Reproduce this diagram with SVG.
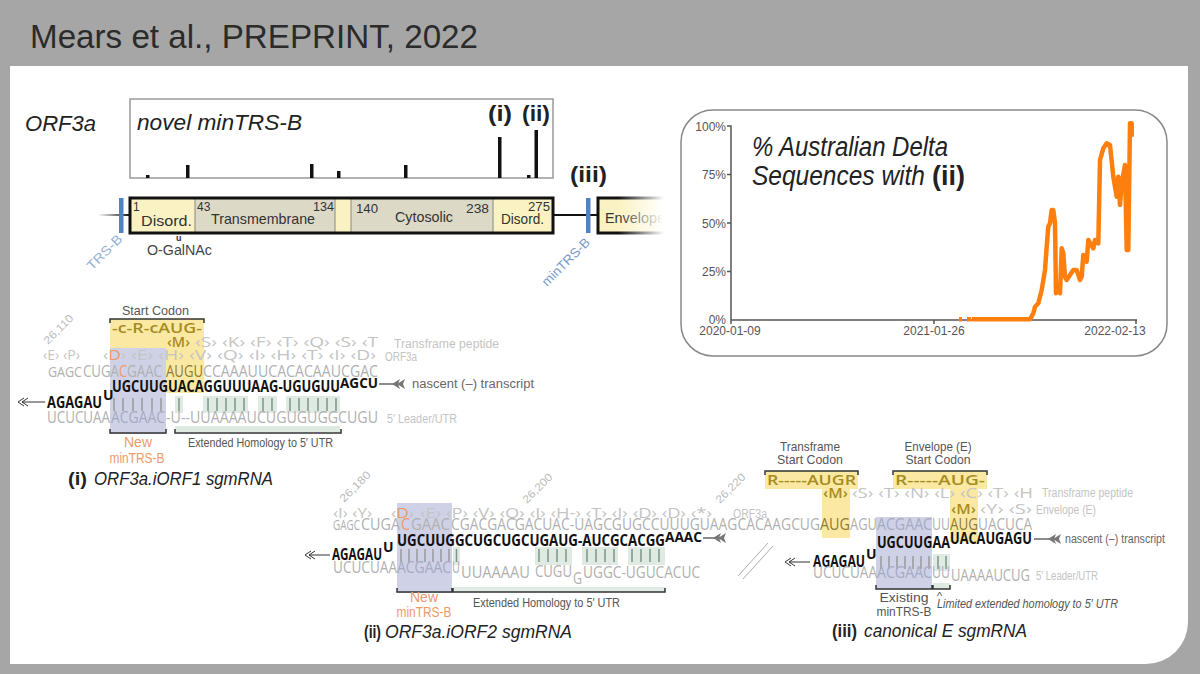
<svg xmlns="http://www.w3.org/2000/svg" width="1200" height="674" viewBox="0 0 1200 674">
<defs>
<style>
.s{font-family:"Open Sans","Noto Sans",sans-serif}
.h{font-family:"Liberation Sans",Arial,sans-serif}
.g{fill:#b0b0b0;font-size:16px}
.sm{font-size:14px}
.a{fill:#c4c4c4;font-size:14.5px}
.b{fill:#111;font-size:16px;font-weight:700}
.bs{font-size:14px}
.lb{fill:#c4c4c4;font-size:12px}
.dk{fill:#555;font-size:13px}
.nt{fill:#666;font-size:12.5px}
.or{fill:#ee9968}
.gd{fill:#a68c22;font-weight:600}
.au{fill:#8e7b35}
.bg{fill:#a6a9c2}
.t{fill:#222;font-size:19px}
.num{fill:#bbb;font-size:11px}
.brk{fill:none;stroke:#333;stroke-width:1.5}
.pg{stroke:#9a9a9a;stroke-width:1.5}
.pn{stroke:#7f978a;stroke-width:1.5}
.yl{fill:#fbe9a3}
.bl{fill:#cfd2e6}
.gr{fill:#dfeae2}
.arl{stroke:#333;stroke-width:1}
.aro{fill:none;stroke:#333;stroke-width:1}
.arr{stroke:#666;stroke-width:1.5}
.tick{fill:#555;font-size:12px}
.dom{fill:#333;font-size:15px}
.domn{fill:#333;font-size:12px}
</style>
<linearGradient id="fadeL" gradientUnits="userSpaceOnUse" x1="98" y1="0" x2="128" y2="0">
<stop offset="0" stop-color="#fff"/><stop offset="1" stop-color="#222"/>
</linearGradient>
<linearGradient id="fadeR" gradientUnits="userSpaceOnUse" x1="618" y1="0" x2="664" y2="0">
<stop offset="0" stop-color="#fff" stop-opacity="0"/><stop offset="1" stop-color="#fff" stop-opacity="1"/>
</linearGradient>
<path id="chF" d="M0,0 L8,-5 L6,0 L8,5 Z M5,0 L13,-5 L11,0 L13,5 Z"/>
<path id="chO" d="M6,-4 L0,0 L6,4 M10,-4 L4,0 L10,4"/>
</defs>

<rect width="1200" height="674" fill="#a6a6a6"/>
<path d="M10,66 H1188 V622 A42,42 0 0 1 1146,664 H10 Z" fill="#fff"/>
<text class="h" x="30" y="48" font-size="34" fill="#2b2b2b" textLength="448" lengthAdjust="spacingAndGlyphs">Mears et al., PREPRINT, 2022</text>

<!-- ORF3a histogram -->
<g id="histogram">
<text class="h" x="25" y="131" font-size="22" font-style="italic" fill="#222" textLength="71" lengthAdjust="spacingAndGlyphs">ORF3a</text>
<rect x="130" y="99" width="423" height="79" fill="#fff" stroke="#999" stroke-width="1.5"/>
<text class="h" x="137" y="130" font-size="22" font-style="italic" fill="#222" textLength="165" lengthAdjust="spacingAndGlyphs">novel minTRS-B</text>
<text class="h" x="488" y="121" font-size="22" font-weight="bold" fill="#222" textLength="24" lengthAdjust="spacingAndGlyphs">(i)</text>
<text class="h" x="522" y="121" font-size="22" font-weight="bold" fill="#222" textLength="28" lengthAdjust="spacingAndGlyphs">(ii)</text>
<g fill="#111">
<rect x="146" y="175" width="3.5" height="3"/>
<rect x="186" y="165" width="3.5" height="13"/>
<rect x="310" y="164" width="3.5" height="14"/>
<rect x="337" y="171" width="3.5" height="7"/>
<rect x="404" y="165" width="3.5" height="13"/>
<rect x="498" y="137" width="3.5" height="41"/>
<rect x="527" y="175" width="3.5" height="3"/>
<rect x="534.5" y="130" width="3.5" height="48"/>
</g>
</g>

<!-- ORF3a domain bar -->
<g id="orf3a-domains">
<line x1="98" y1="215" x2="130" y2="215" stroke="url(#fadeL)" stroke-width="2"/>
<line x1="553" y1="215" x2="598" y2="215" stroke="#111" stroke-width="2"/>
<rect x="130" y="198" width="65" height="35" fill="#fbf2c3"/>
<rect x="195" y="198" width="140" height="35" fill="#dcd9c6"/>
<rect x="335" y="198" width="16" height="35" fill="#fbf2c3"/>
<rect x="351" y="198" width="142" height="35" fill="#dcd9c6"/>
<rect x="493" y="198" width="60" height="35" fill="#fbf2c3"/>
<path d="M195,198V233M335,198V233M351,198V233M493,198V233" stroke="#888" stroke-width="1"/>
<rect x="130" y="198" width="423" height="35" fill="none" stroke="#111" stroke-width="3"/>
<rect x="119" y="198" width="4.5" height="35" fill="#4f83c4"/>
<rect x="586" y="198" width="4.5" height="35" fill="#4f83c4"/>
<rect x="598" y="198" width="82" height="35" fill="#fbf2c3" stroke="#111" stroke-width="3"/>
<text class="h dom" x="605" y="223" textLength="60" lengthAdjust="spacingAndGlyphs">Envelope</text>
<rect x="612" y="190" width="69" height="52" fill="url(#fadeR)"/>
<text class="h domn" x="133" y="211" font-size="11">1</text>
<text class="h dom" x="141" y="226" textLength="51" lengthAdjust="spacingAndGlyphs">Disord.</text>
<text class="h domn" x="197" y="211">43</text>
<text class="h dom" x="211" y="224" textLength="104" lengthAdjust="spacingAndGlyphs">Transmembrane</text>
<text class="h domn" x="313" y="211" textLength="21" lengthAdjust="spacingAndGlyphs">134</text>
<text class="h domn" x="356" y="213" textLength="22" lengthAdjust="spacingAndGlyphs">140</text>
<text class="h dom" x="395" y="222" textLength="58" lengthAdjust="spacingAndGlyphs">Cytosolic</text>
<text class="h domn" x="466" y="213" textLength="23" lengthAdjust="spacingAndGlyphs">238</text>
<text class="h dom" x="501" y="224" textLength="43" lengthAdjust="spacingAndGlyphs">Disord.</text>
<text class="h domn" x="528" y="211" textLength="22" lengthAdjust="spacingAndGlyphs">275</text>
<text class="h" x="570" y="182" font-size="22" font-weight="bold" fill="#222" textLength="37" lengthAdjust="spacingAndGlyphs">(iii)</text>
<text class="h" x="176" y="241" font-size="9" font-weight="bold" fill="#333">u</text>
<text class="h" x="147" y="255" font-size="14" fill="#444" textLength="65" lengthAdjust="spacingAndGlyphs">O-GalNAc</text>
<text class="h" font-size="13" fill="#93b1d6" transform="translate(92,271) rotate(-45)" textLength="44" lengthAdjust="spacingAndGlyphs">TRS-B</text>
<text class="h" font-size="13" fill="#7a9ac6" transform="translate(547,287) rotate(-45)" textLength="62" lengthAdjust="spacingAndGlyphs">minTRS-B</text>
</g>

<!-- Chart -->
<g id="chart">
<rect x="681" y="110" width="486" height="246" rx="32" fill="#fff" stroke="#888" stroke-width="1.5"/>
<path d="M727,126H731V320H1137M727,174.5H731M727,223H731M727,271.5H731M731,320V324M934,320V324M1136,320V324" fill="none" stroke="#555" stroke-width="1.5"/>
<g class="h tick" text-anchor="end">
<text x="726" y="130.5">100%</text>
<text x="726" y="179">75%</text>
<text x="726" y="227.5">50%</text>
<text x="726" y="276">25%</text>
<text x="726" y="324">0%</text>
</g>
<g class="h tick" text-anchor="middle">
<text x="730" y="335">2020-01-09</text>
<text x="934" y="335">2021-01-26</text>
<text x="1115" y="335">2022-02-13</text>
</g>
<path d="M959,319.3H962M967,319.3H971M971.7,319.3 L1030,319.3 L1033.3,313.3 L1035,306.7 L1038.3,303.3 L1041.7,290 L1045,270 L1046.7,246.7 L1048.3,226.7 L1050,223.3 L1051.7,210 L1053.3,210 L1055,223.3 L1056,293.3 L1058.3,286.7 L1060,293.3 L1061.7,248.3 L1063.3,253.3 L1065,276.7 L1066.7,280 L1070,275 L1073.3,270 L1076.7,270 L1080,280 L1081.7,276.7 L1083.3,255 L1086.7,261.7 L1088.3,240 L1093.3,248.3 L1095,240 L1098.3,243.3 L1100,160 L1103.3,148.3 L1106.7,143.3 L1110,145 L1113.3,176.7 L1116.7,196.7 L1118.3,176.7 L1120,205 L1121.7,183.3 L1125,165 L1126.7,250 L1128.3,250 L1130,123.3 L1131.7,123.3 L1131.7,136.7" fill="none" stroke="#ff7f0e" stroke-width="4.5" stroke-linejoin="round"/>
<text class="h" x="752" y="156" font-size="27" font-style="italic" fill="#222" textLength="196" lengthAdjust="spacingAndGlyphs">% Australian Delta</text>
<text class="h" x="752" y="185" font-size="27" font-style="italic" fill="#222" textLength="173" lengthAdjust="spacingAndGlyphs">Sequences with</text>
<text class="h" x="932" y="185" font-size="27" font-weight="bold" fill="#222" textLength="33" lengthAdjust="spacingAndGlyphs">(ii)</text>
</g>

<!-- (i) ORF3a.iORF1 -->
<g id="seq-i">
<rect class="yl" x="110" y="319" width="94" height="74"/>
<rect class="bl" x="110" y="348" width="56" height="86"/>
<g class="gr"><rect x="175" y="396" width="8" height="17"/><rect x="203" y="396" width="45" height="17"/><rect x="258" y="396" width="19" height="17"/><rect x="286" y="396" width="54" height="17"/><rect x="175" y="426" width="165" height="6"/></g>
<path class="brk" d="M110,323V319H204V323"/>
<path class="brk" d="M110,429V433H166V429M175,429V433H341V429"/>
<text class="h dk" x="122" y="315" textLength="67" lengthAdjust="spacingAndGlyphs">Start Codon</text>
<text class="num h" transform="translate(48,345) rotate(-45)" textLength="37" lengthAdjust="spacingAndGlyphs">26,110</text>
<text class="s gd" x="112" y="333" font-size="15" textLength="90" lengthAdjust="spacingAndGlyphs">-c-R-cAUG-</text>
<text class="s a gd" x="167" y="347" textLength="23" lengthAdjust="spacingAndGlyphs">‹M›</text>
<text class="s a" x="195" y="347" textLength="183" lengthAdjust="spacingAndGlyphs">‹S› ‹K› ‹F› ‹T› ‹Q› ‹S› ‹T</text>
<text class="h lb" x="394" y="348" textLength="105" lengthAdjust="spacingAndGlyphs">Transframe peptide</text>
<text class="s a" x="43" y="360" textLength="37" lengthAdjust="spacingAndGlyphs">‹E› ‹P›</text>
<text class="s a" x="103" y="360" textLength="23" lengthAdjust="spacingAndGlyphs">‹<tspan class="or">D</tspan>›</text>
<text class="s a" x="131" y="360" textLength="245" lengthAdjust="spacingAndGlyphs">‹E› ‹H› ‹V› ‹Q› ‹I› ‹H› ‹T› ‹I› ‹D›</text>
<text class="h lb" x="385" y="361" textLength="32" lengthAdjust="spacingAndGlyphs">ORF3a</text>
<text class="s g sm" x="48" y="377" textLength="34" lengthAdjust="spacingAndGlyphs">GAGC</text>
<text class="s g" x="83" y="377" textLength="36" lengthAdjust="spacingAndGlyphs">CUGA</text>
<text class="s g or" x="119" y="377" textLength="8" lengthAdjust="spacingAndGlyphs">C</text>
<text class="s g" x="127" y="377" textLength="35" lengthAdjust="spacingAndGlyphs">GAAC</text>
<text class="s g au" x="166" y="377" textLength="37" lengthAdjust="spacingAndGlyphs">AUGU</text>
<text class="s g" x="203" y="377" textLength="175" lengthAdjust="spacingAndGlyphs">CCAAAUUCACACAAUCGAC</text>
<text class="s b" x="112" y="392" textLength="228" lengthAdjust="spacingAndGlyphs">UGCUUGUACAGGUUUAAG-UGUGUU</text>
<text class="s b bs" x="340" y="388" textLength="38" lengthAdjust="spacingAndGlyphs">AGCU</text>
<line class="arr" x1="379" y1="384" x2="398" y2="384"/>
<use href="#chF" x="392" y="384" fill="#777"/>
<text class="h nt" x="412" y="388" textLength="122" lengthAdjust="spacingAndGlyphs">nascent (–) transcript</text>
<line class="arl" x1="22" y1="402" x2="45" y2="402"/>
<use href="#chO" x="18" y="402" class="aro"/>
<text class="s b" x="47" y="408" textLength="55" lengthAdjust="spacingAndGlyphs">AGAGAU</text>
<text class="s b bs" x="103" y="400">U</text>
<path class="pg" d="M114,398v13M123,398v13M133,398v13M142,398v13M152,398v13M161,398v13"/>
<path class="pn" d="M179,398v13M208,398v13M217,398v13M226,398v13M235,398v13M244,398v13M263,398v13M272,398v13M290,398v13M299,398v13M308,398v13M318,398v13M327,398v13M336,398v13"/>
<text class="s g" x="47" y="423" textLength="63" lengthAdjust="spacingAndGlyphs">UCUCUAA</text>
<text class="s g bg" x="111" y="423" textLength="54" lengthAdjust="spacingAndGlyphs">ACGAAC</text>
<text class="s g" x="166" y="423" textLength="212" lengthAdjust="spacingAndGlyphs">-U--UUAAAAUCUGUGUGGCUGU</text>
<text class="h lb" x="387" y="423" textLength="70" lengthAdjust="spacingAndGlyphs">5′ Leader/UTR</text>
<text class="h or" x="138" y="447" font-size="14" text-anchor="middle">New</text>
<text class="h or" x="137" y="463" font-size="14" text-anchor="middle" textLength="55" lengthAdjust="spacingAndGlyphs">minTRS-B</text>
<text class="h" x="188" y="447" font-size="12" fill="#555" textLength="145" lengthAdjust="spacingAndGlyphs">Extended Homology to 5′ UTR</text>
<text class="h t" x="68" y="485" font-weight="bold" textLength="19" lengthAdjust="spacingAndGlyphs">(i)</text>
<text class="h t" x="94" y="485" font-style="italic" textLength="179" lengthAdjust="spacingAndGlyphs">ORF3a.iORF1 sgmRNA</text>
</g>

<!-- (ii) ORF3a.iORF2 -->
<g id="seq-ii">
<rect class="bl" x="397" y="503" width="55" height="90"/>
<g class="gr"><rect x="453" y="547" width="7" height="18"/><rect x="535" y="547" width="37" height="18"/><rect x="582" y="547" width="36" height="18"/><rect x="628" y="547" width="37" height="18"/><rect x="453" y="587" width="212" height="5"/></g>
<path class="brk" d="M397,588V592H452V588M453,588V592H665V588"/>
<text class="num h" transform="translate(344,503) rotate(-45)" textLength="39" lengthAdjust="spacingAndGlyphs">26,180</text>
<text class="num h" transform="translate(527,504) rotate(-45)" textLength="37" lengthAdjust="spacingAndGlyphs">26,200</text>
<text class="num h" transform="translate(720,504) rotate(-45)" textLength="37" lengthAdjust="spacingAndGlyphs">26,220</text>
<text class="s a" x="333" y="518" textLength="39" lengthAdjust="spacingAndGlyphs">‹I› ‹Y›</text>
<text class="s a" x="391" y="518" textLength="23" lengthAdjust="spacingAndGlyphs">‹<tspan class="or">D</tspan>›</text>
<text class="s a" x="420" y="518" textLength="292" lengthAdjust="spacingAndGlyphs">‹E› ‹P› ‹V› ‹Q› ‹I› ‹H-› ‹T› ‹I› ‹D› ‹D› ‹*›</text>
<text class="h lb" x="733" y="518" textLength="34" lengthAdjust="spacingAndGlyphs">ORF3a</text>
<text class="s g sm" x="333" y="530" textLength="27" lengthAdjust="spacingAndGlyphs">GAGC</text>
<text class="s g" x="361" y="530" textLength="39" lengthAdjust="spacingAndGlyphs">CUGA</text>
<text class="s g or" x="401" y="530" textLength="9" lengthAdjust="spacingAndGlyphs">C</text>
<text class="s g" x="411" y="530" textLength="39" lengthAdjust="spacingAndGlyphs">GAAC</text>
<text class="s g" x="451" y="530" textLength="369" lengthAdjust="spacingAndGlyphs">CGACGACGACUAC-UAGCGUGCCUUUGUAAGCACAAGCUG</text>
<text class="s b" x="397" y="546" textLength="268" lengthAdjust="spacingAndGlyphs">UGCUUGGCUGCUGCUGAUG-AUCGCACGG</text>
<text class="s b bs" x="665" y="542" textLength="37" lengthAdjust="spacingAndGlyphs">AAAC</text>
<line class="arr" x1="703" y1="538" x2="722" y2="538"/>
<use href="#chF" x="713" y="538" fill="#777"/>
<line class="arl" x1="309" y1="555" x2="330" y2="555"/>
<use href="#chO" x="305" y="555" class="aro"/>
<text class="s b" x="332" y="560" textLength="50" lengthAdjust="spacingAndGlyphs">AGAGAU</text>
<text class="s b bs" x="383" y="552">U</text>
<path class="pg" d="M401,549v13M409,549v13M417,549v13M425,549v13M433,549v13M441,549v13M449,549v13"/>
<path class="pn" d="M456.5,549v13M539,549v13M548,549v13M557,549v13M566,549v13M587,549v13M596,549v13M605,549v13M614,549v13M632,549v13M641,549v13M650,549v13M659,549v13"/>
<text class="s g" x="333" y="573" textLength="64" lengthAdjust="spacingAndGlyphs">UCUCUAA</text>
<text class="s g bg" x="397" y="573" textLength="54" lengthAdjust="spacingAndGlyphs">ACGAAC</text>
<text class="s g" x="452" y="573" textLength="8" lengthAdjust="spacingAndGlyphs">U</text>
<text class="s g" x="461" y="578" textLength="69" lengthAdjust="spacingAndGlyphs">UUAAAAU</text>
<text class="s g" x="535" y="577" textLength="37" lengthAdjust="spacingAndGlyphs">CUGU</text>
<text class="s g" x="573" y="584" textLength="9" lengthAdjust="spacingAndGlyphs">G</text>
<text class="s g" x="583" y="578" textLength="117" lengthAdjust="spacingAndGlyphs">UGGC-UGUCACUC</text>
<text class="h or" x="424" y="602" font-size="14" text-anchor="middle">New</text>
<text class="h or" x="424" y="617" font-size="14" text-anchor="middle" textLength="55" lengthAdjust="spacingAndGlyphs">minTRS-B</text>
<text class="h" x="473" y="607" font-size="12" fill="#555" textLength="147" lengthAdjust="spacingAndGlyphs">Extended Homology to 5′ UTR</text>
<text class="h t" x="364" y="638" font-weight="bold" textLength="17" lengthAdjust="spacingAndGlyphs">(ii)</text>
<text class="h t" x="385" y="638" font-style="italic" textLength="187" lengthAdjust="spacingAndGlyphs">ORF3a.iORF2 sgmRNA</text>
<path d="M738,576L768,543M743,579L773,546" stroke="#aaa" stroke-width="1" fill="none"/>
</g>

<!-- (iii) canonical E -->
<g id="seq-iii">
<rect class="yl" x="765" y="471" width="93" height="18"/>
<rect class="yl" x="822" y="489" width="28" height="49"/>
<rect class="yl" x="893" y="471" width="94" height="18"/>
<rect class="yl" x="950" y="489" width="28" height="53"/>
<rect class="bl" x="876" y="517" width="56" height="72"/>
<g class="gr"><rect x="933" y="554" width="17" height="17"/><rect x="933" y="583" width="17" height="6"/></g>
<path class="brk" d="M765,475V471H858V475M893,475V471H987V475"/>
<path class="brk" d="M876,585V589H932V585M933,585V589H950V585"/>
<text class="h dk" x="810" y="451" text-anchor="middle" textLength="60" lengthAdjust="spacingAndGlyphs">Transframe</text>
<text class="h dk" x="810" y="464" text-anchor="middle" textLength="66" lengthAdjust="spacingAndGlyphs">Start Codon</text>
<text class="h dk" x="938" y="451" text-anchor="middle" textLength="67" lengthAdjust="spacingAndGlyphs">Envelope (E)</text>
<text class="h dk" x="938" y="464" text-anchor="middle" textLength="65" lengthAdjust="spacingAndGlyphs">Start Codon</text>
<text class="s gd" x="767" y="485" font-size="15" textLength="89" lengthAdjust="spacingAndGlyphs">R-----AUGR</text>
<text class="s gd" x="895" y="485" font-size="15" textLength="90" lengthAdjust="spacingAndGlyphs">R-----AUG-</text>
<text class="s a gd" x="823" y="498" textLength="25" lengthAdjust="spacingAndGlyphs">‹M›</text>
<text class="s a" x="852" y="498" textLength="181" lengthAdjust="spacingAndGlyphs">‹S› ‹T› ‹N› ‹L› ‹C› ‹T› ‹H</text>
<text class="h lb" x="1042" y="497" textLength="91" lengthAdjust="spacingAndGlyphs">Transframe peptide</text>
<text class="s a gd" x="951" y="514" textLength="25" lengthAdjust="spacingAndGlyphs">‹M›</text>
<text class="s a" x="980" y="514" textLength="52" lengthAdjust="spacingAndGlyphs">‹Y› ‹S›</text>
<text class="h lb" x="1036" y="514" textLength="60" lengthAdjust="spacingAndGlyphs">Envelope (E)</text>
<text class="s g au" x="820" y="530" textLength="30" lengthAdjust="spacingAndGlyphs">AUG</text>
<text class="s g" x="850" y="530" textLength="27" lengthAdjust="spacingAndGlyphs">AGU</text>
<text class="s g bg" x="877" y="530" textLength="55" lengthAdjust="spacingAndGlyphs">ACGAAC</text>
<text class="s g" x="932" y="530" textLength="18" lengthAdjust="spacingAndGlyphs">UU</text>
<text class="s g au" x="950" y="530" textLength="28" lengthAdjust="spacingAndGlyphs">AUG</text>
<text class="s g" x="978" y="530" textLength="54" lengthAdjust="spacingAndGlyphs">UACUCA</text>
<text class="s b" x="877" y="548" textLength="73" lengthAdjust="spacingAndGlyphs">UGCUUGAA</text>
<text class="s b" x="950" y="544" textLength="82" lengthAdjust="spacingAndGlyphs">UACAUGAGU</text>
<line class="arr" x1="1034" y1="539" x2="1054" y2="539"/>
<use href="#chF" x="1048" y="539" fill="#777"/>
<text class="h nt" x="1065" y="543" textLength="100" lengthAdjust="spacingAndGlyphs">nascent (–) transcript</text>
<line class="arl" x1="789" y1="562" x2="810" y2="562"/>
<use href="#chO" x="785" y="562" class="aro"/>
<text class="s b" x="813" y="567" textLength="52" lengthAdjust="spacingAndGlyphs">AGAGAU</text>
<text class="s b bs" x="866" y="559">U</text>
<path class="pg" d="M881,556v13M889,556v13M897,556v13M905,556v13M913,556v13M921,556v13M929,556v13"/>
<path class="pn" d="M938,556v13M946,556v13"/>
<text class="s g" x="813" y="578" textLength="64" lengthAdjust="spacingAndGlyphs">UCUCUAA</text>
<text class="s g bg" x="877" y="578" textLength="55" lengthAdjust="spacingAndGlyphs">ACGAAC</text>
<text class="s g" x="932" y="578" textLength="18" lengthAdjust="spacingAndGlyphs">UU</text>
<text class="s g" x="951" y="581" textLength="79" lengthAdjust="spacingAndGlyphs">UAAAAUCUG</text>
<text class="h lb" x="1036" y="580" textLength="62" lengthAdjust="spacingAndGlyphs">5′ Leader/UTR</text>
<text class="h dk" x="904" y="602" font-size="14" text-anchor="middle" textLength="49" lengthAdjust="spacingAndGlyphs">Existing</text>
<text class="h dk" x="904" y="616" font-size="14" text-anchor="middle" textLength="55" lengthAdjust="spacingAndGlyphs">minTRS-B</text>
<text class="h" x="937" y="600" font-size="11" fill="#555">^</text>
<text class="h" x="937" y="608" font-size="12" font-style="italic" fill="#555" textLength="181" lengthAdjust="spacingAndGlyphs">Limited extended homology to 5′ UTR</text>
<text class="h t" x="832" y="637" font-weight="bold" textLength="25" lengthAdjust="spacingAndGlyphs">(iii)</text>
<text class="h t" x="864" y="637" font-style="italic" textLength="163" lengthAdjust="spacingAndGlyphs">canonical E sgmRNA</text>
</g>
</svg>
